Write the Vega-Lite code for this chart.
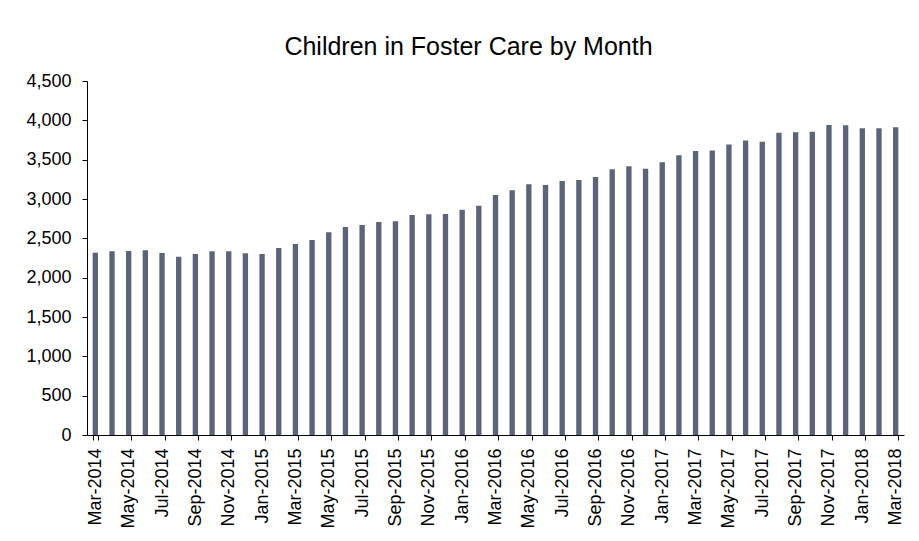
{
  "$schema": "https://vega.github.io/schema/vega-lite/v6.json",
  "autosize": {"type": "none"},
  "width": 817,
  "height": 354,
  "padding": {"left": 87, "top": 81, "right": 15, "bottom": 106},
  "background": "white",
  "title": {
    "text": "Children in Foster Care by Month",
    "font": "Liberation Sans",
    "fontSize": 25,
    "fontWeight": "normal",
    "color": "#000000",
    "anchor": "middle",
    "frame": "group",
    "dx": -27,
    "offset": 12
  },
  "config": {
    "view": {"stroke": null},
    "axis": {
      "labelFont": "Liberation Sans",
      "labelFontSize": 18,
      "labelColor": "#000000",
      "domainColor": "#000000",
      "tickColor": "#000000",
      "domainWidth": 1,
      "tickWidth": 1,
      "tickSize": 5,
      "grid": false,
      "title": null
    }
  },
  "data": {
    "values": [
      {"month": "Mar-2014", "children": 2317},
      {"month": "Apr-2014", "children": 2335},
      {"month": "May-2014", "children": 2339},
      {"month": "Jun-2014", "children": 2347},
      {"month": "Jul-2014", "children": 2313},
      {"month": "Aug-2014", "children": 2266},
      {"month": "Sep-2014", "children": 2300},
      {"month": "Oct-2014", "children": 2335},
      {"month": "Nov-2014", "children": 2335},
      {"month": "Dec-2014", "children": 2309},
      {"month": "Jan-2015", "children": 2300},
      {"month": "Feb-2015", "children": 2377},
      {"month": "Mar-2015", "children": 2428},
      {"month": "Apr-2015", "children": 2478},
      {"month": "May-2015", "children": 2576},
      {"month": "Jun-2015", "children": 2644},
      {"month": "Jul-2015", "children": 2669},
      {"month": "Aug-2015", "children": 2707},
      {"month": "Sep-2015", "children": 2716},
      {"month": "Oct-2015", "children": 2796},
      {"month": "Nov-2015", "children": 2805},
      {"month": "Dec-2015", "children": 2809},
      {"month": "Jan-2016", "children": 2864},
      {"month": "Feb-2016", "children": 2915},
      {"month": "Mar-2016", "children": 3050},
      {"month": "Apr-2016", "children": 3110},
      {"month": "May-2016", "children": 3186},
      {"month": "Jun-2016", "children": 3178},
      {"month": "Jul-2016", "children": 3228},
      {"month": "Aug-2016", "children": 3241},
      {"month": "Sep-2016", "children": 3279},
      {"month": "Oct-2016", "children": 3377},
      {"month": "Nov-2016", "children": 3415},
      {"month": "Dec-2016", "children": 3385},
      {"month": "Jan-2017", "children": 3466},
      {"month": "Feb-2017", "children": 3555},
      {"month": "Mar-2017", "children": 3610},
      {"month": "Apr-2017", "children": 3618},
      {"month": "May-2017", "children": 3694},
      {"month": "Jun-2017", "children": 3745},
      {"month": "Jul-2017", "children": 3728},
      {"month": "Aug-2017", "children": 3842},
      {"month": "Sep-2017", "children": 3847},
      {"month": "Oct-2017", "children": 3855},
      {"month": "Nov-2017", "children": 3940},
      {"month": "Dec-2017", "children": 3936},
      {"month": "Jan-2018", "children": 3898},
      {"month": "Feb-2018", "children": 3898},
      {"month": "Mar-2018", "children": 3911}
    ]
  },
  "mark": {"type": "bar", "color": "#5b6479"},
  "encoding": {
    "x": {
      "field": "month",
      "type": "ordinal",
      "sort": null,
      "scale": {"paddingInner": 0.68, "paddingOuter": 0.34},
      "axis": {
        "values": ["Mar-2014", "May-2014", "Jul-2014", "Sep-2014", "Nov-2014", "Jan-2015", "Mar-2015", "May-2015", "Jul-2015", "Sep-2015", "Nov-2015", "Jan-2016", "Mar-2016", "May-2016", "Jul-2016", "Sep-2016", "Nov-2016", "Jan-2017", "Mar-2017", "May-2017", "Jul-2017", "Sep-2017", "Nov-2017", "Jan-2018", "Mar-2018"],
        "labelAngle": -90,
        "labelPadding": 8,
        "tickBand": "extent",
        "labelOverlap": false
      }
    },
    "y": {
      "field": "children",
      "type": "quantitative",
      "scale": {"domain": [0, 4500], "nice": false},
      "axis": {
        "values": [0, 500, 1000, 1500, 2000, 2500, 3000, 3500, 4000, 4500],
        "format": ",.0f",
        "labelPadding": 11
      }
    }
  }
}
